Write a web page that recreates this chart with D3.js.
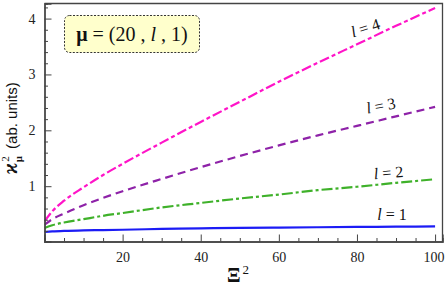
<!DOCTYPE html>
<html>
<head>
<meta charset="utf-8">
<script src="https://cdnjs.cloudflare.com/ajax/libs/d3/7.8.5/d3.min.js"></script>
<style>
  body { margin: 0; background: #fff; }
  svg { display: block; }
  .serif { font-family: 'Liberation Serif', 'Times New Roman', Times, 'DejaVu Serif', serif; }
  .sans { font-family: 'Liberation Sans', Arial, Helvetica, sans-serif; }
</style>
</head>
<body>
<div id="chart"></div>
<script>
// values
var xi2 = [0, 2, 5, 10, 15, 20, 30, 40, 50, 60, 70, 80, 90, 100];
var l1 = [0.18, 0.19, 0.20, 0.21, 0.215, 0.22, 0.235, 0.245, 0.255, 0.26, 0.265, 0.27, 0.275, 0.28];
var l2 = [0.25, 0.30, 0.35, 0.41, 0.47, 0.52, 0.62, 0.70, 0.78, 0.85, 0.93, 0.99, 1.06, 1.125];
var l3 = [0.31, 0.41, 0.51, 0.66, 0.79, 0.91, 1.13, 1.34, 1.54, 1.73, 1.91, 2.08, 2.25, 2.42];
var l4 = [0.37, 0.55, 0.74, 0.98, 1.20, 1.40, 1.78, 2.15, 2.51, 2.87, 3.21, 3.54, 3.87, 4.19];
var xTicks = [20, 40, 60, 80, 100];
var yTicks = [1, 2, 3, 4];
var seriesLabels = ["l = 1", "l = 2", "l = 3", "l = 4"];

var w = 445, h = 286;
var svg = d3.select('#chart').append('svg')
    .attr('width', w)
    .attr('height', h);

var x = d3.scaleLinear().domain([0, 101.9]).range([44.5, 442.5]);
var y = d3.scaleLinear().domain([0.01, 4.27]).range([241.5, 3.5]);

svg.append('clipPath').attr('id', 'clip')
  .append('rect')
    .attr('x', x(0)).attr('y', y(4.27))
    .attr('width', x(101.9) - x(0))
    .attr('height', y(0.01) - y(4.27));

// curves
var series = [
  {vals: l1, color: '#1c1cf5', dash: null},
  {vals: l2, color: '#3fb12a', dash: '11,3,3,3'},
  {vals: l3, color: '#8e22a8', dash: '8,5'},
  {vals: l4, color: '#ff14c8', dash: '10,3,4,3'}
];

var line = d3.line()
  .x(function(d){ return x(d[0]); })
  .y(function(d){ return y(d[1]); })
  .curve(d3.curveMonotoneX);

svg.append('g').attr('clip-path', 'url(#clip)')
  .selectAll('path')
  .data(series)
  .enter()
  .append('path')
    .attr('d', function(s){ return line(xi2.map(function(v, i){ return [v, s.vals[i]]; })); })
    .attr('fill', 'none')
    .attr('stroke', function(s){ return s.color; })
    .attr('stroke-width', 2.2)
    .attr('stroke-dasharray', function(s){ return s.dash; });

// axes, ticks point inward
var axisColor = '#444';
svg.append('g').attr('transform', 'translate(0,' + y(0.01) + ')')
  .call(d3.axisBottom(x).tickValues(xTicks).tickSize(-7).tickPadding(11));
svg.append('g').attr('transform', 'translate(0,' + y(0.01) + ')')
  .call(d3.axisBottom(x).tickValues(d3.range(5, 101, 5).filter(function(v){ return v % 20; }))
    .tickSize(-3.5).tickFormat(''));
svg.append('g').attr('transform', 'translate(' + x(0) + ',0)')
  .call(d3.axisLeft(y).tickValues(yTicks).tickSize(-7).tickPadding(9).tickFormat(d3.format('d')));
svg.append('g').attr('transform', 'translate(' + x(0) + ',0)')
  .call(d3.axisLeft(y).tickValues(d3.range(0.2, 4.21, 0.2).filter(function(v){ return Math.abs(v - Math.round(v)) > 0.01; }))
    .tickSize(-3.5).tickFormat(''));

svg.selectAll('.domain').attr('stroke', axisColor).attr('stroke-width', 1.3);
svg.selectAll('.tick line').attr('stroke', axisColor).attr('stroke-width', 1);
svg.selectAll('.tick text')
  .attr('font-family', null)
  .attr('class', 'serif')
  .style('font-size', '14px')
  .attr('fill', '#222')
  .filter(function(d){ return d === 100; })
  .attr('dx', -1.5);

// top and right frame
svg.append('path')
  .attr('d', 'M' + x(0) + ',' + y(4.27) + 'H' + x(101.9) + 'V' + y(0.01))
  .attr('fill', 'none')
  .attr('stroke', axisColor)
  .attr('stroke-width', 1.3);

// curve labels
var labelPos = [
  {x: 392, y: 220, r: 0},
  {x: 389, y: 178, r: -5},
  {x: 382, y: 111, r: -11},
  {x: 367, y: 33, r: -18}
];
svg.selectAll('text.lab')
  .data(seriesLabels)
  .enter()
  .append('text')
    .attr('class', 'lab serif')
    .attr('text-anchor', 'middle')
    .attr('transform', function(d, i){ return 'translate(' + labelPos[i].x + ',' + labelPos[i].y + ') rotate(' + labelPos[i].r + ')'; })
    .style('font-size', '16px')
    .attr('fill', '#111')
    .each(function(d){
      var t = d3.select(this);
      t.append('tspan').style('font-style', 'italic').text(d.charAt(0));
      t.append('tspan').text(d.slice(1));
    });

// parameter box
svg.append('rect')
  .attr('x', 64.5).attr('y', 15.5)
  .attr('width', 135).attr('height', 37)
  .attr('rx', 5)
  .attr('fill', '#ffffcc')
  .attr('stroke', '#333')
  .attr('stroke-width', 1)
  .attr('stroke-dasharray', '2,1.5');
var box = svg.append('text')
  .attr('class', 'serif')
  .attr('x', 132).attr('y', 41)
  .attr('text-anchor', 'middle')
  .style('font-size', '20px')
  .attr('fill', '#111');
box.append('tspan').style('font-weight', 'bold').text('μ');
box.append('tspan').text(' = (20 , ');
box.append('tspan').style('font-style', 'italic').text('l');
box.append('tspan').text(' , 1)');

// x label
var xl = svg.append('text')
  .attr('class', 'serif')
  .attr('x', 238).attr('y', 282)
  .attr('text-anchor', 'middle')
  .attr('fill', '#111');
xl.append('tspan').style('font-size', '20px').style('font-weight', 'bold').text('Ξ');
xl.append('tspan').style('font-size', '13px').attr('dy', -8).attr('dx', 2).text('2');

// y label
var yl = svg.append('text')
  .attr('transform', 'translate(17,174) rotate(-90)')
  .attr('fill', '#111');
yl.append('tspan').attr('class', 'serif').style('font-style', 'italic')
  .style('font-size', '20px').style('font-weight', 'bold').text('ϰ');
yl.append('tspan').attr('class', 'serif').style('font-size', '11px')
  .attr('dy', -8).attr('dx', 1).text('2');
yl.append('tspan').attr('class', 'serif').style('font-size', '11px').style('font-weight', 'bold')
  .attr('dy', 13).attr('dx', -6).text('μ');
yl.append('tspan').attr('class', 'sans').style('font-size', '15px')
  .attr('dy', -5).attr('dx', 7).text('(ab. units)');
</script>
</body>
</html>
